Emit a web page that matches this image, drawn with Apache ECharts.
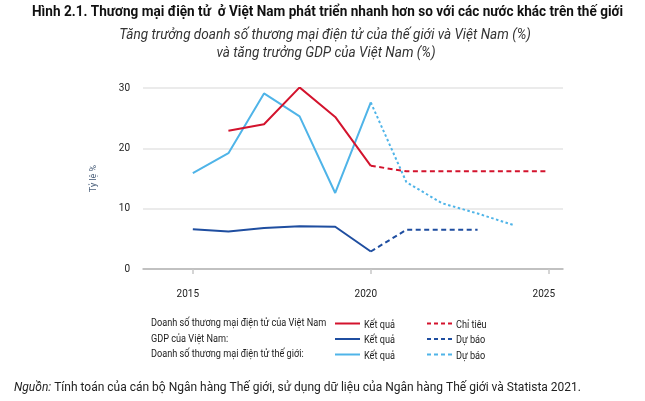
<!DOCTYPE html>
<html><head><meta charset="utf-8">
<script src="https://cdn.jsdelivr.net/npm/echarts@6/dist/echarts.min.js"></script>
<style>html,body{margin:0;padding:0;background:#fff}#c{width:645px;height:401px}</style>
</head><body><div id="c"></div>
<script>
const years = [2015, 2016, 2017, 2018, 2019, 2020, 2021, 2022, 2023, 2024, 2025];
const tickYears = [2015, 2020, 2025];
const yTicks = [0, 10, 20, 30];
// Vietnam e-commerce growth (actual 2016-2020, target 2020-2025)
const vnEcomActualYears = [2016, 2017, 2018, 2019, 2020];
const vnEcomActual = [22.9, 24.0, 30.1, 25.2, 17.1];
const vnEcomTargetYears = [2020, 2021, 2022, 2023, 2024, 2025];
const vnEcomTarget = [17.1, 16.2, 16.2, 16.2, 16.2, 16.2];
// Vietnam GDP growth
const gdpActualYears = [2015, 2016, 2017, 2018, 2019, 2020];
const gdpActual = [6.6, 6.2, 6.8, 7.1, 7.0, 2.9];
const gdpForecastYears = [2020, 2021, 2022, 2023];
const gdpForecast = [2.9, 6.5, 6.5, 6.5];
// World e-commerce growth
const worldActualYears = [2015, 2016, 2017, 2018, 2019, 2020];
const worldActual = [15.9, 19.2, 29.1, 25.3, 12.6, 27.6];
const worldForecastYears = [2020, 2021, 2022, 2023, 2024];
const worldForecast = [27.6, 14.4, 10.9, 9.2, 7.3];

const RED = '#d3132d', DBLUE = '#1f4ea0', LBLUE = '#4fb4e8';
const pair = (xs, ys) => xs.map((x, i) => [x, ys[i]]);

const chart = echarts.init(document.getElementById('c'), null, {renderer: 'canvas'});
const FONT = 'Roboto';
function line(data, color, type) {
  return {type: 'line', data, symbol: 'none', silent: true,
    lineStyle: {color, width: 2, type: type || 'solid', cap: 'butt'}};
}
const legendText = (x, y, t) => ({type: 'text', x, y, style: {text: t, font: '10px ' + FONT, fill: '#222', textVerticalAlign: 'middle'}, scaleX: 0.915});
const legendLine = (x, y, color, dash) => ({type: 'line', shape: {x1: x, y1: y, x2: x + 25, y2: y}, style: {stroke: color, lineWidth: 2, lineDash: dash || null}});

chart.setOption({
  animation: false,
  grid: {left: 143, right: 82, top: 88, bottom: 132},
  xAxis: {type: 'value', min: 2013.6, max: 2025.4,
    axisLine: {show: true, lineStyle: {color: '#b4b4b4', width: 1.5}},
    axisTick: {show: true, customValues: tickYears, length: 5, lineStyle: {color: '#c8c8c8', width: 1.5}},
    axisLabel: {customValues: tickYears, formatter: v => String(v), margin: 20, color: '#222', fontFamily: FONT, fontSize: 10, padding: [0, 10, 0, 0]},
    splitLine: {show: false}},
  yAxis: {type: 'value', min: 0, max: 30, interval: 10,
    name: 'Tỷ lệ %', nameLocation: 'middle', nameGap: 45, nameRotate: 90,
    nameTextStyle: {color: '#4a5f7a', fontFamily: FONT, fontSize: 9},
    axisLine: {show: false}, axisTick: {show: false},
    axisLabel: {color: '#222', fontFamily: FONT, fontSize: 10, margin: 13},
    splitLine: {lineStyle: {color: '#e4e4e4', width: 1.5}}},
  series: [
    line(pair(worldActualYears, worldActual), LBLUE),
    line(pair(worldForecastYears, worldForecast), LBLUE, [2.5, 2.5]),
    line(pair(gdpActualYears, gdpActual), DBLUE),
    line(pair(gdpForecastYears, gdpForecast), DBLUE, [5, 3.5]),
    line(pair(vnEcomActualYears, vnEcomActual), RED),
    line(pair(vnEcomTargetYears, vnEcomTarget), RED, [5, 3.5])
  ],
  graphic: [
    {type: 'text', x: 327.5, y: 12, scaleX: 0.97, style: {text: 'Hình 2.1. Thương mại điện tử  ở Việt Nam phát triển nhanh hơn so với các nước khác trên thế giới', font: 'bold 14px ' + FONT, fill: '#111', textAlign: 'center', textVerticalAlign: 'middle'}},
    {type: 'text', x: 325, y: 35, scaleX: 0.97, style: {text: 'Tăng trưởng doanh số thương mại điện tử của thế giới và Việt Nam (%)', font: 'italic 14px ' + FONT, fill: '#333', textAlign: 'center', textVerticalAlign: 'middle'}},
    {type: 'text', x: 326, y: 53, scaleX: 0.97, style: {text: 'và tăng trưởng GDP của Việt Nam (%)', font: 'italic 14px ' + FONT, fill: '#333', textAlign: 'center', textVerticalAlign: 'middle'}},
    legendText(151, 323.5, 'Doanh số thương mại điện tử của Việt Nam'),
    legendText(151, 339, 'GDP của Việt Nam:'),
    legendText(151, 354.5, 'Doanh số thương mại điện tử thế giới:'),
    legendLine(335, 323.5, RED), legendLine(335, 339, DBLUE), legendLine(335, 354.5, LBLUE),
    legendText(364, 325, 'Kết quả'), legendText(364, 340.5, 'Kết quả'), legendText(364, 356, 'Kết quả'),
    legendLine(427, 323.5, RED, [4, 3]), legendLine(427, 339, DBLUE, [4, 3]), legendLine(427, 354.5, LBLUE, [4, 3]),
    legendText(456, 325, 'Chỉ tiêu'), legendText(456, 340.5, 'Dự báo'), legendText(456, 356, 'Dự báo'),
    {type: 'text', x: 14, y: 388, scaleX: 0.96, style: {text: '{i|Nguồn:} Tính toán của cán bộ Ngân hàng Thế giới, sử dụng dữ liệu của Ngân hàng Thế giới và Statista 2021.', font: '12.5px ' + FONT, fill: '#222', textVerticalAlign: 'middle', rich: {i: {fontStyle: 'italic', fontFamily: FONT, fontSize: 12.5, fill: '#222'}}}}
  ]
});
</script></body></html>
